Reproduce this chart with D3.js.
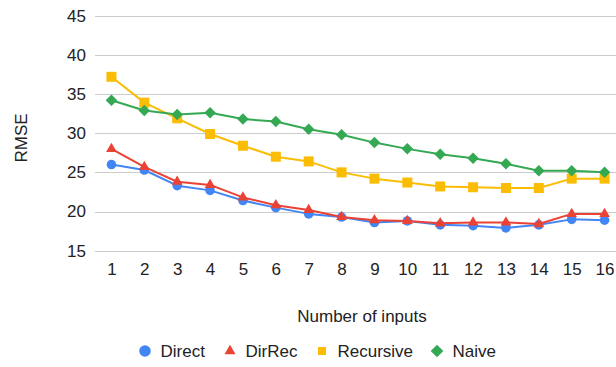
<!DOCTYPE html>
<html>
<head>
<meta charset="utf-8">
<script src="https://cdn.jsdelivr.net/npm/d3@7"></script>
<style>
  html, body { margin: 0; padding: 0; background: #fff; }
  svg { display: block; font-family: "Liberation Sans", Arial, sans-serif; }
</style>
</head>
<body>
<svg id="chart" width="616" height="367"></svg>
<script>
// Forecast error by number of inputs, one series per strategy
const inputs = [1, 2, 3, 4, 5, 6, 7, 8, 9, 10, 11, 12, 13, 14, 15, 16];
const direct    = [26.0, 25.3, 23.3, 22.7, 21.4, 20.5, 19.7, 19.3, 18.6, 18.8, 18.3, 18.2, 17.9, 18.3, 19.0, 18.9];
const dirRec    = [28.0, 25.7, 23.8, 23.4, 21.8, 20.8, 20.2, 19.3, 18.9, 18.8, 18.5, 18.6, 18.6, 18.4, 19.7, 19.7];
const recursive = [37.2, 33.9, 31.9, 29.9, 28.4, 27.0, 26.4, 25.0, 24.2, 23.7, 23.2, 23.1, 23.0, 23.0, 24.2, 24.2];
const naive     = [34.2, 32.9, 32.4, 32.6, 31.8, 31.5, 30.5, 29.8, 28.8, 28.0, 27.3, 26.8, 26.1, 25.2, 25.2, 25.0];
const yTicks = [15, 20, 25, 30, 35, 40, 45];

const series = [
  { name: "Direct",    values: direct,    color: "#4285F4", shape: "circle" },
  { name: "DirRec",    values: dirRec,    color: "#EA4335", shape: "triangle" },
  { name: "Recursive", values: recursive, color: "#FBBC04", shape: "square" },
  { name: "Naive",     values: naive,     color: "#34A853", shape: "diamond" }
];

const svg = d3.select("#chart");
const plotLeft = 95, plotRight = 621, plotTop = 15.7, plotBottom = 250.7;
const font = "Liberation Sans, Arial, sans-serif";
const textColor = "#222";

const x = d3.scalePoint().domain(inputs).range([plotLeft, plotRight]).padding(0.5);
const y = d3.scaleLinear().domain([15, 45]).range([plotBottom, plotTop]);

// gridlines
svg.append("g").selectAll("line").data(yTicks).join("line")
  .attr("x1", plotLeft).attr("x2", 616)
  .attr("y1", d => Math.round(y(d)) + 0.5).attr("y2", d => Math.round(y(d)) + 0.5)
  .attr("stroke", "#cccccc").attr("stroke-width", 1);

// y axis labels
const yAxis = d3.axisLeft(y).tickValues(yTicks).tickSize(0).tickPadding(9);
const gy = svg.append("g").attr("transform", `translate(${plotLeft},0)`).call(yAxis);
gy.select(".domain").remove();
gy.selectAll("text").attr("font-size", 17).attr("fill", textColor).attr("font-family", font);

// x axis labels
const xAxis = d3.axisBottom(x).tickSize(0).tickPadding(12);
const gx = svg.append("g").attr("transform", `translate(0,${plotBottom})`).call(xAxis);
gx.select(".domain").remove();
gx.selectAll("text").attr("font-size", 17).attr("fill", textColor).attr("font-family", font);

// axis titles
svg.append("text").attr("x", 362).attr("y", 321.5).attr("text-anchor", "middle")
  .attr("font-size", 17).attr("fill", textColor).text("Number of inputs");
svg.append("text").attr("transform", "translate(27,138) rotate(-90)").attr("text-anchor", "middle")
  .attr("font-size", 17).attr("fill", textColor).text("RMSE");

const markerSize = { circle: 72, triangle: 50, square: 100, diamond: 66 };
const legendSize = { circle: 105, triangle: 52, square: 64, diamond: 80 };
const symbolType = {
  circle: d3.symbolCircle, triangle: d3.symbolTriangle,
  square: d3.symbolSquare, diamond: d3.symbolSquare
};
const rot = shape => shape === "diamond" ? " rotate(45)" : "";

const line = d3.line().x((d, i) => x(inputs[i])).y(d => y(d));

series.forEach(s => {
  const g = svg.append("g");
  g.append("path").attr("d", line(s.values)).attr("fill", "none")
    .attr("stroke", s.color).attr("stroke-width", 2).attr("stroke-linejoin", "round");
  const sym = d3.symbol().type(symbolType[s.shape]).size(markerSize[s.shape]);
  g.selectAll("path.pt").data(s.values).join("path").attr("class", "pt")
    .attr("d", sym)
    .attr("transform", (d, i) => `translate(${x(inputs[i])},${y(d)})${rot(s.shape)}`)
    .attr("fill", s.color);
});

// legend
const legendX = [145, 230, 322, 437];
const lg = svg.append("g");
series.forEach((s, i) => {
  const sym = d3.symbol().type(symbolType[s.shape]).size(legendSize[s.shape]);
  lg.append("path").attr("d", sym)
    .attr("transform", `translate(${legendX[i]},351)${rot(s.shape)}`).attr("fill", s.color);
  lg.append("text").attr("x", legendX[i] + 15.5).attr("y", 357)
    .attr("font-size", 17).attr("fill", textColor).text(s.name);
});
</script>
</body>
</html>
